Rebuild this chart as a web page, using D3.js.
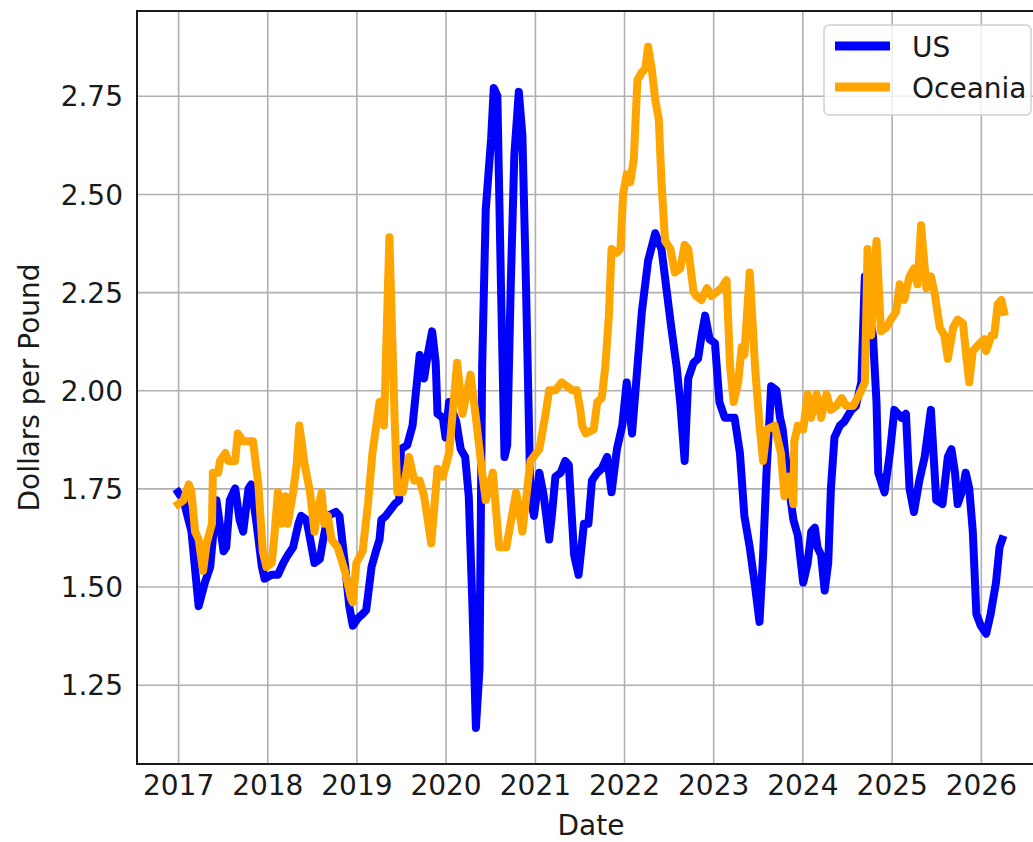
<!DOCTYPE html>
<html>
<head>
<meta charset="utf-8">
<script src="https://cdn.jsdelivr.net/npm/d3@7.9.0/dist/d3.min.js"></script>
<style>
  body { margin: 0; background: #fff; }
  svg { display: block; font-family: "DejaVu Sans", sans-serif; }
</style>
</head>
<body>
<svg id="chart" width="1033" height="842"></svg>
<script>
// Dates are decimal years
const usDates = [
  2017.00, 2017.06, 2017.15, 2017.23, 2017.30, 2017.36, 2017.43, 2017.51, 2017.54, 2017.58,
  2017.64, 2017.69, 2017.73, 2017.79, 2017.82, 2017.88, 2017.94, 2017.97, 2018.05, 2018.12,
  2018.18, 2018.23, 2018.29, 2018.35, 2018.38, 2018.44, 2018.49, 2018.53, 2018.59, 2018.62,
  2018.68, 2018.77, 2018.81, 2018.87, 2018.92, 2018.96, 2019.02, 2019.07, 2019.11, 2019.17,
  2019.22, 2019.26, 2019.28, 2019.33, 2019.43, 2019.48, 2019.50, 2019.57, 2019.63, 2019.71,
  2019.76, 2019.80, 2019.85, 2019.89, 2019.91, 2019.97, 2020.00, 2020.04, 2020.12, 2020.17,
  2020.22, 2020.26, 2020.30, 2020.34, 2020.38, 2020.41, 2020.45, 2020.51, 2020.54, 2020.58,
  2020.62, 2020.66, 2020.69, 2020.73, 2020.77, 2020.82, 2020.86, 2020.90, 2020.95, 2020.99,
  2021.05, 2021.10, 2021.16, 2021.19, 2021.23, 2021.29, 2021.34, 2021.38, 2021.44, 2021.49,
  2021.55, 2021.60, 2021.64, 2021.70, 2021.75, 2021.81, 2021.86, 2021.92, 2021.98, 2022.03,
  2022.09, 2022.20, 2022.27, 2022.35, 2022.42, 2022.48, 2022.53, 2022.59, 2022.63, 2022.68,
  2022.72, 2022.78, 2022.83, 2022.87, 2022.91, 2022.96, 2023.02, 2023.07, 2023.13, 2023.24,
  2023.30, 2023.35, 2023.41, 2023.47, 2023.52, 2023.56, 2023.60, 2023.63, 2023.65, 2023.71,
  2023.75, 2023.78, 2023.84, 2023.90, 2023.95, 2024.01, 2024.06, 2024.10, 2024.14, 2024.17,
  2024.21, 2024.25, 2024.29, 2024.32, 2024.36, 2024.42, 2024.47, 2024.55, 2024.60, 2024.66,
  2024.70, 2024.74, 2024.79, 2024.83, 2024.85, 2024.92, 2024.98, 2025.03, 2025.11, 2025.16,
  2025.20, 2025.25, 2025.31, 2025.37, 2025.44, 2025.50, 2025.57, 2025.63, 2025.67, 2025.71,
  2025.74, 2025.80, 2025.83, 2025.87, 2025.91, 2025.95, 2026.00, 2026.06, 2026.11, 2026.17,
  2026.21, 2026.24
];
const usPrices = [
  1.74, 1.72, 1.64, 1.45, 1.51, 1.55, 1.72, 1.59, 1.60, 1.72,
  1.75, 1.67, 1.64, 1.75, 1.76, 1.66, 1.55, 1.52, 1.53, 1.53,
  1.56, 1.58, 1.60, 1.66, 1.68, 1.67, 1.61, 1.56, 1.57, 1.61,
  1.68, 1.69, 1.68, 1.56, 1.45, 1.40, 1.42, 1.43, 1.44, 1.55,
  1.59, 1.62, 1.67, 1.68, 1.71, 1.72, 1.85, 1.86, 1.91, 2.09,
  2.03, 2.09, 2.15, 2.07, 1.94, 1.93, 1.88, 1.97, 1.92, 1.85,
  1.83, 1.73, 1.46, 1.14, 1.29, 2.06, 2.46, 2.64, 2.77, 2.75,
  2.27, 1.83, 1.86, 2.27, 2.60, 2.76, 2.65, 2.27, 1.73, 1.68,
  1.79, 1.73, 1.62, 1.68, 1.78, 1.79, 1.82, 1.81, 1.58, 1.53,
  1.66, 1.66, 1.77, 1.79, 1.80, 1.83, 1.74, 1.85, 1.91, 2.02,
  1.89, 2.20, 2.33, 2.40, 2.36, 2.25, 2.16, 2.06, 1.97, 1.82,
  2.03, 2.07, 2.08, 2.14, 2.19, 2.13, 2.12, 1.97, 1.93, 1.93,
  1.84, 1.68, 1.60, 1.50, 1.41, 1.58, 1.80, 1.92, 2.01, 2.00,
  1.93, 1.90, 1.77, 1.67, 1.63, 1.51, 1.56, 1.64, 1.65, 1.60,
  1.58, 1.49, 1.56, 1.75, 1.88, 1.91, 1.92, 1.95, 1.96, 2.02,
  2.29, 2.20, 2.14, 1.97, 1.79, 1.74, 1.84, 1.95, 1.93, 1.94,
  1.75, 1.69, 1.77, 1.83, 1.95, 1.72, 1.71, 1.83, 1.85, 1.79,
  1.71, 1.75, 1.79, 1.75, 1.64, 1.43, 1.40, 1.38, 1.43, 1.51,
  1.60, 1.62
];

const oceaniaDates = [
  2017.00, 2017.06, 2017.12, 2017.15, 2017.19, 2017.23, 2017.28, 2017.32, 2017.38, 2017.39,
  2017.45, 2017.47, 2017.53, 2017.56, 2017.64, 2017.67, 2017.73, 2017.84, 2017.90, 2017.95,
  2017.99, 2018.05, 2018.08, 2018.12, 2018.16, 2018.20, 2018.23, 2018.29, 2018.33, 2018.36,
  2018.42, 2018.48, 2018.53, 2018.57, 2018.61, 2018.64, 2018.68, 2018.72, 2018.79, 2018.87,
  2018.94, 2018.96, 2019.00, 2019.07, 2019.13, 2019.18, 2019.26, 2019.31, 2019.37, 2019.43,
  2019.46, 2019.52, 2019.59, 2019.65, 2019.71, 2019.76, 2019.84, 2019.91, 2019.97, 2020.04,
  2020.13, 2020.19, 2020.28, 2020.34, 2020.41, 2020.45, 2020.53, 2020.60, 2020.68, 2020.79,
  2020.86, 2020.95, 2021.05, 2021.12, 2021.16, 2021.23, 2021.30, 2021.36, 2021.42, 2021.47,
  2021.51, 2021.53, 2021.57, 2021.66, 2021.70, 2021.75, 2021.79, 2021.83, 2021.86, 2021.92,
  2021.96, 2021.99, 2022.03, 2022.07, 2022.11, 2022.15, 2022.20, 2022.24, 2022.27, 2022.31,
  2022.35, 2022.39, 2022.42, 2022.46, 2022.52, 2022.57, 2022.63, 2022.68, 2022.72, 2022.78,
  2022.81, 2022.87, 2022.93, 2022.98, 2023.04, 2023.09, 2023.15, 2023.19, 2023.23, 2023.28,
  2023.32, 2023.35, 2023.41, 2023.47, 2023.52, 2023.56, 2023.60, 2023.69, 2023.76, 2023.80,
  2023.85, 2023.90, 2023.91, 2023.95, 2024.01, 2024.06, 2024.10, 2024.16, 2024.21, 2024.27,
  2024.32, 2024.38, 2024.44, 2024.49, 2024.57, 2024.64, 2024.70, 2024.73, 2024.77, 2024.83,
  2024.88, 2024.94, 2024.99, 2025.05, 2025.09, 2025.14, 2025.20, 2025.25, 2025.29, 2025.33,
  2025.39, 2025.44, 2025.48, 2025.54, 2025.59, 2025.63, 2025.69, 2025.74, 2025.80, 2025.84,
  2025.87, 2025.91, 2025.99, 2026.04, 2026.06, 2026.12, 2026.15, 2026.19, 2026.23, 2026.26
];
const oceaniaPrices = [
  1.71, 1.72, 1.76, 1.74, 1.64, 1.62, 1.54, 1.61, 1.66, 1.79,
  1.79, 1.82, 1.84, 1.82, 1.82, 1.89, 1.87, 1.87, 1.76, 1.59,
  1.55, 1.56, 1.63, 1.74, 1.66, 1.73, 1.66, 1.74, 1.81, 1.91,
  1.81, 1.74, 1.64, 1.70, 1.74, 1.66, 1.68, 1.62, 1.60, 1.54,
  1.47, 1.46, 1.56, 1.59, 1.71, 1.84, 1.97, 1.91, 2.39, 1.92,
  1.74, 1.74, 1.83, 1.77, 1.77, 1.73, 1.61, 1.80, 1.78, 1.84,
  2.07, 1.94, 2.04, 1.93, 1.79, 1.72, 1.79, 1.60, 1.60, 1.74,
  1.64, 1.82, 1.85, 1.94, 2.00, 2.00, 2.02, 2.01, 2.00, 2.00,
  1.95, 1.91, 1.89, 1.90, 1.97, 1.98, 2.06, 2.19, 2.36, 2.35,
  2.36, 2.50, 2.55, 2.53, 2.59, 2.79, 2.81, 2.82, 2.875, 2.82,
  2.74, 2.69, 2.53, 2.38, 2.36, 2.30, 2.31, 2.37, 2.36, 2.25,
  2.24, 2.23, 2.26, 2.24, 2.25, 2.26, 2.28, 2.06, 1.97, 2.02,
  2.11, 2.09, 2.30, 2.06, 1.91, 1.82, 1.90, 1.91, 1.84, 1.73,
  1.78, 1.71, 1.87, 1.91, 1.90, 1.99, 1.93, 1.99, 1.93, 1.99,
  1.95, 1.96, 1.98, 1.96, 1.96, 1.99, 2.02, 2.36, 2.14, 2.38,
  2.15, 2.16, 2.18, 2.20, 2.27, 2.23, 2.29, 2.31, 2.27, 2.42,
  2.26, 2.29, 2.25, 2.16, 2.14, 2.08, 2.16, 2.18, 2.17, 2.08,
  2.02, 2.10, 2.12, 2.13, 2.10, 2.14, 2.14, 2.22, 2.23, 2.20
];

const yearTicks = [2017, 2018, 2019, 2020, 2021, 2022, 2023, 2024, 2025, 2026];
const priceTicks = [1.25, 1.50, 1.75, 2.00, 2.25, 2.50, 2.75];
const xLimits = [2016.54, 2026.72];
const yLimits = [1.048, 2.966];

const seriesNames = ['US', 'Oceania'];
const seriesColors = ['#0000ff', '#ffa500'];

// decimal year -> Date
function toDate(t) {
  const y = Math.floor(t);
  const start = Date.UTC(y, 0, 1);
  const end = Date.UTC(y + 1, 0, 1);
  return new Date(start + (t - y) * (end - start));
}

const series = [
  usDates.map((t, i) => ({ date: toDate(t), value: usPrices[i] })),
  oceaniaDates.map((t, i) => ({ date: toDate(t), value: oceaniaPrices[i] })),
];

const margin = { left: 137, top: 11, right: 1045, bottom: 764 };
const fontSize = 28;

const svg = d3.select('#chart');

const x = d3.scaleUtc()
  .domain(xLimits.map(toDate))
  .range([margin.left, margin.right]);

const y = d3.scaleLinear()
  .domain(yLimits)
  .range([margin.bottom, margin.top]);

svg.append('defs').append('clipPath').attr('id', 'plot-clip')
  .append('rect')
  .attr('x', margin.left).attr('y', margin.top)
  .attr('width', margin.right - margin.left)
  .attr('height', margin.bottom - margin.top);

// Grid + x axis
const xAxis = svg.append('g')
  .attr('transform', `translate(0,${margin.bottom})`)
  .call(d3.axisBottom(x)
    .tickValues(yearTicks.map(toDate))
    .tickFormat(d3.utcFormat('%Y'))
    .tickSize(-(margin.bottom - margin.top)));
xAxis.select('.domain').remove();
xAxis.selectAll('line').attr('stroke', '#b0b0b0').attr('stroke-width', 1.6);
xAxis.selectAll('text')
  .attr('y', 31).attr('dy', null)
  .attr('fill', '#1a1a1a')
  .style('font-size', fontSize + 'px')
  .style('font-family', '"DejaVu Sans", sans-serif');

// Grid + y axis
const yAxis = svg.append('g')
  .attr('transform', `translate(${margin.left},0)`)
  .call(d3.axisLeft(y)
    .tickValues(priceTicks)
    .tickFormat(d3.format('.2f'))
    .tickSize(-(margin.right - margin.left)));
yAxis.select('.domain').remove();
yAxis.selectAll('line').attr('stroke', '#b0b0b0').attr('stroke-width', 1.6);
yAxis.selectAll('text')
  .attr('x', -14).attr('dy', '0.36em')
  .attr('fill', '#1a1a1a')
  .style('font-size', fontSize + 'px')
  .style('font-family', '"DejaVu Sans", sans-serif');

// Lines
const line = d3.line()
  .x((d) => x(d.date))
  .y((d) => y(d.value));

svg.append('g')
  .attr('clip-path', 'url(#plot-clip)')
  .selectAll('path')
  .data(series)
  .join('path')
  .attr('d', line)
  .attr('fill', 'none')
  .attr('stroke', (d, i) => seriesColors[i])
  .attr('stroke-width', 8)
  .attr('stroke-linejoin', 'round')
  .attr('stroke-linecap', 'square');

// Spines (right one falls outside the picture)
svg.append('rect')
  .attr('x', margin.left).attr('y', margin.top)
  .attr('width', margin.right - margin.left)
  .attr('height', margin.bottom - margin.top)
  .attr('fill', 'none')
  .attr('stroke', '#1a1a1a')
  .attr('stroke-width', 2);

// Axis labels
svg.append('text')
  .attr('x', (margin.left + margin.right) / 2)
  .attr('y', 835)
  .attr('text-anchor', 'middle')
  .attr('fill', '#1a1a1a')
  .style('font-size', fontSize + 'px')
  .text('Date');

svg.append('text')
  .attr('transform', `translate(39,${(margin.top + margin.bottom) / 2}) rotate(-90)`)
  .attr('text-anchor', 'middle')
  .attr('fill', '#1a1a1a')
  .style('font-size', fontSize + 'px')
  .text('Dollars per Pound');

// Legend
const legend = svg.append('g');
legend.append('rect')
  .attr('x', 824).attr('y', 25)
  .attr('width', 207).attr('height', 90)
  .attr('rx', 5).attr('ry', 5)
  .attr('fill', 'rgba(255,255,255,0.8)')
  .attr('stroke', '#d0d0d0')
  .attr('stroke-width', 1.5);

const entries = legend.selectAll('g.entry')
  .data(seriesNames)
  .join('g')
  .attr('class', 'entry')
  .attr('transform', (d, i) => `translate(0,${46 + i * 41})`);

entries.append('line')
  .attr('x1', 835).attr('x2', 890)
  .attr('stroke', (d, i) => seriesColors[i])
  .attr('stroke-width', 9);

entries.append('text')
  .attr('x', 912).attr('y', 11)
  .attr('fill', '#1a1a1a')
  .style('font-size', fontSize + 'px')
  .text((d) => d);
</script>
</body>
</html>
